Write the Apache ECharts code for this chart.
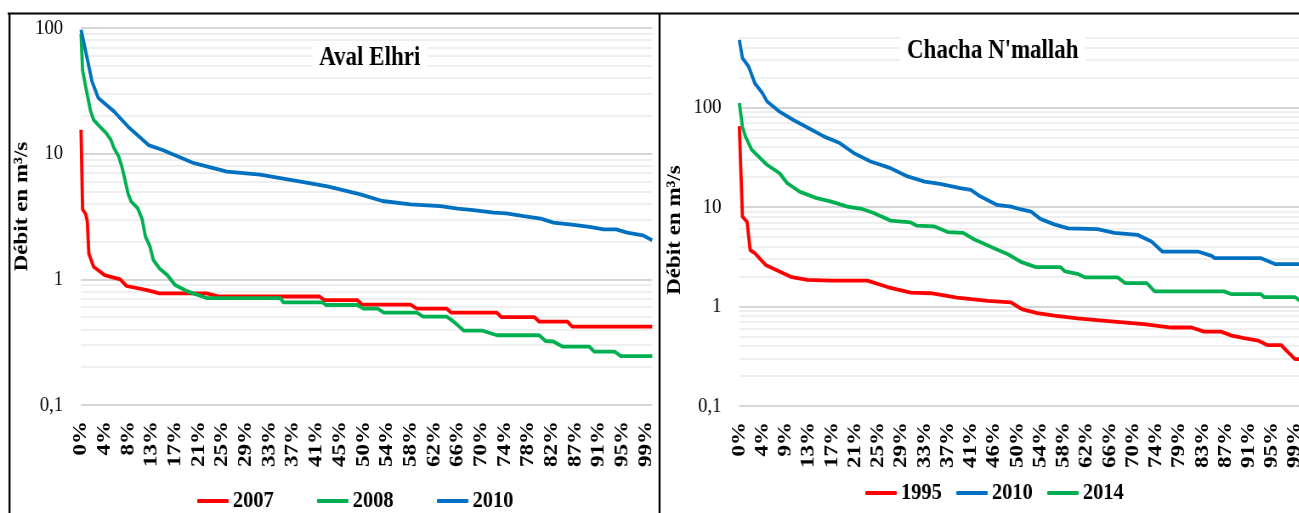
<!DOCTYPE html>
<html>
<head>
<meta charset="utf-8">
<script src="https://cdn.jsdelivr.net/npm/echarts@6/dist/echarts.min.js"></script>
<style>
html,body{margin:0;padding:0;background:#fff;overflow:hidden;width:1299px;height:513px;}
#wrap{position:absolute;left:0;top:0;width:1299px;height:513px;overflow:hidden;}
#chart{position:absolute;left:0;top:0;width:1529px;height:513px;transform:scaleX(0.85);transform-origin:0 0;}
</style>
</head>
<body>
<div id="wrap"><div id="chart"></div></div>
<script>
// ---- Data (x = rank of the day in the sorted year, 0..364; y = discharge m3/s) ----
const avalTicks = ['0%','4%','8%','13%','17%','21%','25%','29%','33%','37%','41%','45%','50%','54%','58%','62%','66%','70%','74%','78%','82%','87%','91%','95%','99%'];
const chachaTicks = ['0%','4%','9%','13%','17%','21%','25%','29%','33%','37%','41%','46%','50%','54%','58%','62%','66%','70%','74%','79%','83%','87%','91%','95%','99%'];

const aval2007 = [[0,15.5],[1,3.6],[3,3.3],[4,2.9],[5,1.6],[8,1.26],[15,1.08],[25,1.0],[29,0.885],[42,0.82],[50,0.773],[80,0.773],[88,0.73],[152,0.73],[155,0.684],[176,0.684],[179,0.63],[210,0.63],[214,0.585],[233,0.585],[236,0.543],[265,0.543],[268,0.5],[289,0.5],[292,0.46],[310,0.46],[313,0.42],[364,0.42]];
const aval2008 = [[0,90],[1,46],[3,34],[6,22],[8,18.6],[12,16.4],[16,14.6],[19,12.9],[21,11.1],[24,9.5],[26,7.9],[28,6.2],[30,4.8],[32,4.15],[36,3.7],[39,3.0],[41,2.2],[44,1.82],[46,1.43],[50,1.22],[55,1.08],[60,0.9],[67,0.81],[72,0.77],[80,0.71],[127,0.71],[129,0.655],[154,0.655],[156,0.625],[176,0.625],[180,0.585],[189,0.585],[193,0.543],[214,0.543],[218,0.505],[233,0.505],[237,0.466],[244,0.39],[256,0.39],[265,0.359],[292,0.359],[296,0.323],[301,0.32],[307,0.291],[324,0.291],[327,0.266],[340,0.266],[344,0.245],[364,0.245]];
const aval2010 = [[0,97],[3,65],[7,37.5],[11,27.7],[21,21.7],[30,16.4],[43,11.7],[52,10.7],[72,8.4],[93,7.2],[114,6.8],[140,6.0],[157,5.5],[165,5.2],[178,4.75],[192,4.2],[210,3.95],[229,3.83],[240,3.65],[250,3.56],[263,3.39],[271,3.35],[282,3.19],[293,3.04],[301,2.83],[314,2.71],[324,2.61],[333,2.5],[341,2.5],[348,2.35],[358,2.24],[364,2.05]];

const chacha1995 = [[0,65],[2,8.0],[5,7.1],[7,3.7],[10,3.44],[17,2.62],[26,2.25],[34,1.97],[44,1.85],[59,1.82],[83,1.82],[96,1.57],[111,1.38],[124,1.36],[141,1.23],[161,1.14],[176,1.1],[182,0.96],[184,0.93],[193,0.86],[204,0.81],[219,0.76],[241,0.71],[262,0.665],[280,0.615],[293,0.615],[301,0.56],[312,0.56],[319,0.51],[327,0.48],[336,0.455],[342,0.41],[351,0.41],[355,0.353],[360,0.296],[364,0.296]];
const chacha2010 = [[0,479],[2,314],[6,258],[10,176],[15,139],[18,115],[26,91],[35,75],[45,62],[55,51],[65,44],[74,35],[85,28.7],[98,24.6],[109,20.3],[120,18],[130,17.1],[143,15.5],[150,14.9],[156,12.8],[167,10.5],[176,10.1],[182,9.5],[189,9.0],[195,7.6],[204,6.7],[213,6.1],[232,6.0],[243,5.5],[258,5.25],[267,4.5],[274,3.57],[297,3.57],[306,3.23],[308,3.06],[338,3.06],[347,2.67],[364,2.67]];
const chacha2014 = [[0,111],[2,64],[4,51],[8,37.6],[18,26.5],[26,21.9],[31,17.4],[39,14.3],[50,12.3],[59,11.4],[70,10.1],[80,9.5],[87,8.7],[98,7.3],[111,7.0],[115,6.5],[126,6.4],[135,5.6],[145,5.5],[152,4.75],[165,3.86],[174,3.35],[182,2.83],[192,2.49],[208,2.49],[211,2.25],[219,2.13],[224,1.96],[245,1.96],[250,1.72],[264,1.72],[269,1.42],[314,1.42],[319,1.33],[338,1.33],[340,1.24],[360,1.24],[364,1.12]];

const avalMinor = [0.2,0.3,0.4,0.5,0.6,0.7,0.8,0.9,2,3,4,5,6,7,8,9,20,30,40,50,60,70,80,90];
const chachaMinor = [0.2,0.3,0.4,0.5,0.6,0.7,0.8,0.9,2,3,4,5,6,7,8,9,20,30,40,50,60,70,80,90,200,300,400,500];

// ---- Styling ----
const FONT = '"Liberation Serif","Times New Roman",serif';
const RED = '#FF0000', GREEN = '#00B050', BLUE = '#0070C0';

function isDecade(v) {
  const l = Math.log10(v);
  return Math.abs(l - Math.round(l)) < 1e-6;
}
function xAxisFor(gi, ticks) {
  return {
    gridIndex: gi, type: 'value', min: 0, max: 364, interval: 15,
    axisLine: {show: false}, axisTick: {show: false}, splitLine: {show: false},
    axisLabel: {
      rotate: 90, margin: 16, color: '#000', fontFamily: FONT, fontWeight: 'bold', fontSize: 23,
      showMaxLabel: false,
      formatter: v => (v % 15 === 0 && ticks[v / 15] !== undefined) ? ticks[v / 15] : ''
    }
  };
}
function yAxisFor(gi, max, gap, pad) {
  return {
    gridIndex: gi, type: 'log', logBase: 10, min: 0.1, max: max,
    axisLine: {show: false}, axisTick: {show: false},
    splitLine: {lineStyle: {color: '#D6D6D6', width: 2}},
    axisLabel: {
      margin: 21, color: '#000', fontFamily: FONT, fontSize: 22, showMaxLabel: isDecade(max),
      formatter: v => isDecade(v) ? String(+v.toPrecision(6)).replace('.', ',') : ''
    },
    name: 'Débit en m³/s', nameLocation: 'middle', nameRotate: 90, nameGap: gap,
    nameTextStyle: {color: '#000', fontFamily: FONT, fontWeight: 'bold', fontSize: 23, padding: pad}
  };
}
function lineSeries(name, data, color, gi, minor) {
  const s = {
    name: name, type: 'line', xAxisIndex: gi, yAxisIndex: gi, data: data,
    symbol: 'none', showSymbol: false, smooth: false,
    lineStyle: {color: color, width: 3.8}, itemStyle: {color: color},
    emphasis: {disabled: true}
  };
  if (minor) {
    s.markLine = {
      silent: true, z: 1, symbol: ['none', 'none'], label: {show: false},
      lineStyle: {color: '#EFEFEF', width: 2, type: 'solid'},
      emphasis: {disabled: true},
      data: minor.map(v => ({yAxis: v}))
    };
  }
  return s;
}
const legendText = {color: '#000', fontFamily: FONT, fontWeight: 'bold', fontSize: 24};
const titleText = {color: '#000', fontFamily: FONT, fontWeight: 'bold', fontSize: 27};

const chart = echarts.init(document.getElementById('chart'), null, {renderer: 'canvas'});
chart.setOption({
  animation: false,
  backgroundColor: '#fff',
  title: [
    {text: 'Aval Elhri', left: 427, top: 41, textAlign: 'center', backgroundColor: '#fff', padding: [4, 8],
     textStyle: titleText},
    {text: "Chacha N'mallah", left: 1160, top: 34, textAlign: 'center', backgroundColor: '#fff', padding: [4, 8],
     textStyle: titleText}
  ],
  grid: [
    {left: 95.3, top: 28, width: 672, height: 377, outerBoundsMode: 'none', containLabel: false},
    {left: 869.8, top: 38, width: 661, height: 368, outerBoundsMode: 'none', containLabel: false}
  ],
  xAxis: [xAxisFor(0, avalTicks), xAxisFor(1, chachaTicks)],
  yAxis: [yAxisFor(0, 100, 54, [0, 0, 0, 20]), yAxisFor(1, 500, 64, [0, 16, 0, 0])],
  legend: [
    {data: ['2007', '2008', '2010'], left: 227, top: 484, icon: 'roundRect', itemWidth: 37, itemHeight: 4, itemGap: 51,
     textStyle: legendText, selectedMode: false},
    {data: ['1995', '2010', '2014'], left: 1013, top: 476, icon: 'roundRect', itemWidth: 37, itemHeight: 4, itemGap: 17,
     textStyle: legendText, selectedMode: false}
  ],
  series: [
    lineSeries('2007', aval2007, RED, 0, avalMinor),
    lineSeries('2008', aval2008, GREEN, 0),
    lineSeries('2010', aval2010, BLUE, 0),
    lineSeries('1995', chacha1995, RED, 1, chachaMinor),
    lineSeries('2010', chacha2010, BLUE, 1),
    lineSeries('2014', chacha2014, GREEN, 1)
  ],
  graphic: [
    {type: 'line', silent: true, z: 100, shape: {x1: 9, y1: 13.5, x2: 1529, y2: 13.5}, style: {stroke: '#000', lineWidth: 2}},
    {type: 'line', silent: true, z: 100, shape: {x1: 11.2, y1: 13, x2: 11.2, y2: 513}, style: {stroke: '#000', lineWidth: 2.3}},
    {type: 'line', silent: true, z: 100, shape: {x1: 775.9, y1: 13, x2: 775.9, y2: 513}, style: {stroke: '#000', lineWidth: 2.3}}
  ]
});
</script>
</body>
</html>
